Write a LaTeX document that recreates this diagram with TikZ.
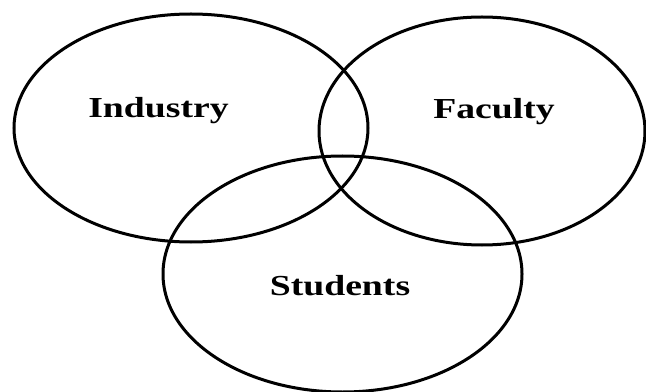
\documentclass[tikz,border=0pt]{standalone}
\usepackage{fontspec}
\usepackage{tikz}
\newfontfamily\vennfont[FakeStretch=1.3]{Liberation Serif}

\tikzset{
  vennset/.style={line width=2.25},
  vennlabel/.style={anchor=base, inner sep=0.75pt, font=\vennfont\bfseries\fontsize{21.75}{26}\selectfont}
}

\begin{document}
\begin{tikzpicture}[x=0.75pt,y=0.75pt,yscale=-1,xscale=1]
\useasboundingbox (0,0) rectangle (646,392);

%Shape: Ellipse
\draw  [vennset] (191,128) ellipse [x radius=177, y radius=114] ;
%Shape: Ellipse
\draw  [vennset] (482,131) ellipse [x radius=163, y radius=114] ;
%Shape: Ellipse
\draw  [vennset] (342.5,274) ellipse [x radius=179.5, y radius=118] ;

% Text Node
\draw (158.5,118) node [vennlabel] (industry) {Industry};
% Text Node
\draw (494,119) node [vennlabel] (faculty) {Faculty};
% Text Node
\draw (340,295) node [vennlabel] (students) {Students};

\end{tikzpicture}
\end{document}
